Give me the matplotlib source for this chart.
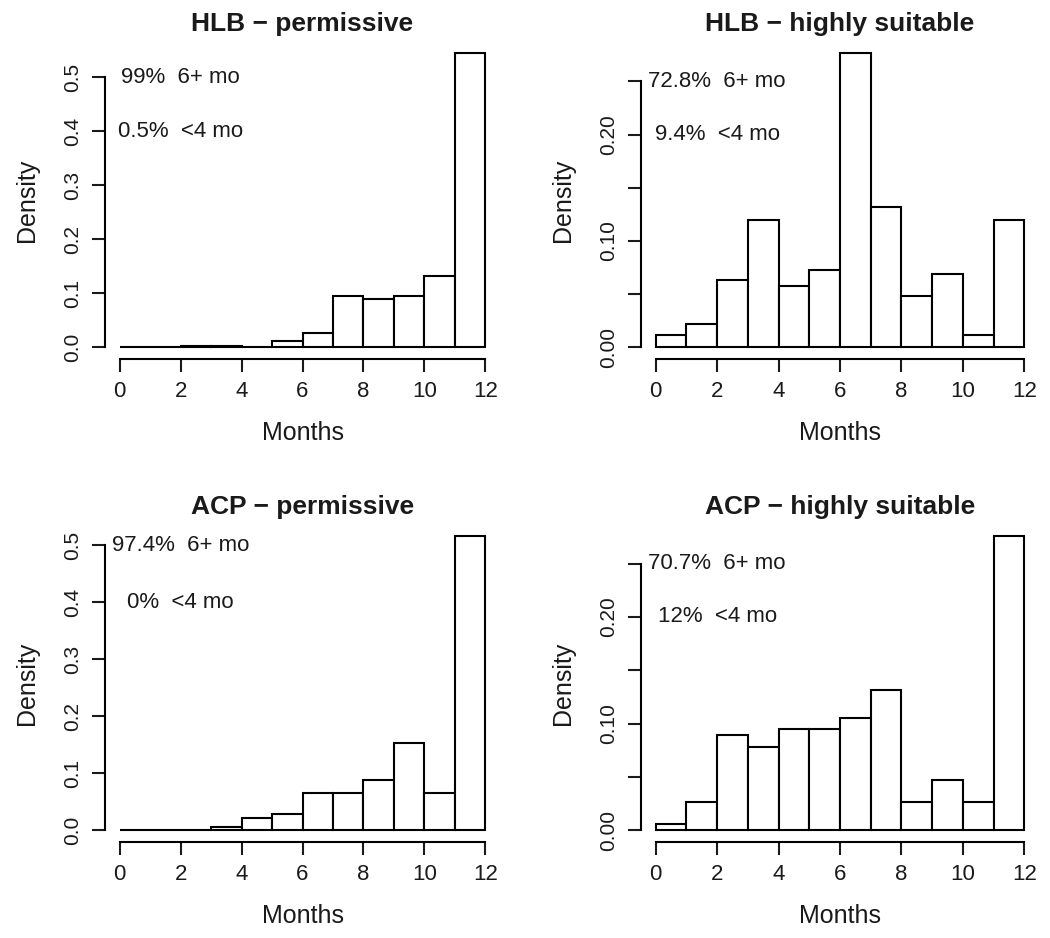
import matplotlib
matplotlib.use('Agg')
import matplotlib.pyplot as plt
import numpy as np

plt.rcParams['font.family'] = ['Liberation Sans', 'DejaVu Sans']

# data: density per 1-month bin (0-1, 1-2, ..., 11-12)
edges = np.arange(0, 13)
hlb_perm = [0.0, 0.0, 0.002, 0.002, 0.0, 0.011, 0.027, 0.094, 0.090, 0.094, 0.131, 0.545]
hlb_high = [0.0116, 0.022, 0.063, 0.120, 0.0575, 0.073, 0.277, 0.1316, 0.048, 0.069, 0.0116, 0.120]
acp_perm = [0.0, 0.0, 0.0, 0.0064, 0.021, 0.029, 0.0645, 0.0645, 0.089, 0.154, 0.0645, 0.517]
acp_high = [0.006, 0.0266, 0.089, 0.078, 0.095, 0.095, 0.105, 0.131, 0.0266, 0.0475, 0.0266, 0.276]

titles = ['HLB \u2212 permissive', 'HLB \u2212 highly suitable',
          'ACP \u2212 permissive', 'ACP \u2212 highly suitable']
six_plus = ['99%', '72.8%', '97.4%', '70.7%']
under4 = ['0.5%', '9.4%', '0%', '12%']

series = [hlb_perm, hlb_high, acp_perm, acp_high]
# y ticks (value, label) per panel
yt_big = ([0, 0.1, 0.2, 0.3, 0.4, 0.5], ['0.0', '0.1', '0.2', '0.3', '0.4', '0.5'])
yt_small = ([0, 0.05, 0.10, 0.15, 0.20, 0.25], ['0.00', '', '0.10', '', '0.20', ''])
yticks = [yt_big, yt_small, yt_big, yt_small]
ytext = [(0.5, 0.4), (0.25, 0.2), (0.5, 0.4), (0.25, 0.2)]

W, H = 1050, 938
fig = plt.figure(figsize=(W / 100, H / 100), dpi=100)

# axes rectangles in pixels (left, right, top, bottom)
rects = [(105, 500, 41, 359), (641, 1039, 41, 359),
         (105, 500, 524, 842), (641, 1039, 524, 842)]

fs = 16
for i in range(4):
    l, r, t, b = rects[i]
    ax = fig.add_axes([l / W, 1 - b / H, (r - l) / W, (b - t) / H])
    h = series[i]
    ax.bar(edges[:-1], h, width=1, align='edge', facecolor='white',
           edgecolor='black', linewidth=1.5)
    top = max(h)
    ax.set_xlim(-0.48, 12.48)
    ax.set_ylim(-0.04 * top, top * 1.04)

    for s in ['top', 'right']:
        ax.spines[s].set_visible(False)
    for s in ['left', 'bottom']:
        ax.spines[s].set_linewidth(1.5)
    ax.spines['bottom'].set_bounds(0, 12)
    ax.spines['left'].set_bounds(0, yticks[i][0][-1])

    ax.set_xticks(range(0, 13, 2))
    ax.set_xticklabels([str(v) for v in range(0, 13, 2)])
    ax.set_yticks(yticks[i][0])
    ax.set_yticklabels(yticks[i][1], rotation=90, va='center')
    ax.tick_params(direction='out', length=9.5, width=1.5,
                   colors='#1a1a1a')
    ax.tick_params(axis='x', pad=6, labelsize=fs)
    ax.tick_params(axis='y', pad=7, labelsize=15)

    ax.set_title(titles[i], fontsize=19, fontweight='bold', pad=7,
                 color='#1a1a1a')
    ax.set_xlabel('Months', fontsize=18, color='#1a1a1a')
    ax.set_ylabel('Density', fontsize=18, color='#1a1a1a')
    ax.xaxis.set_label_coords(0.5, -74 / (b - t))
    ax.xaxis.label.set_va('center')
    ax.yaxis.set_label_coords(-78 / (r - l), 0.5)
    ax.yaxis.label.set_va('center')

    ax.text(2, ytext[i][0], six_plus[i] + '  6+ mo', fontsize=fs,
            ha='center', va='center', color='#1a1a1a')
    ax.text(2, ytext[i][1], under4[i] + '  <4 mo', fontsize=fs,
            ha='center', va='center', color='#1a1a1a')

fig.savefig('out.png', dpi=100)
